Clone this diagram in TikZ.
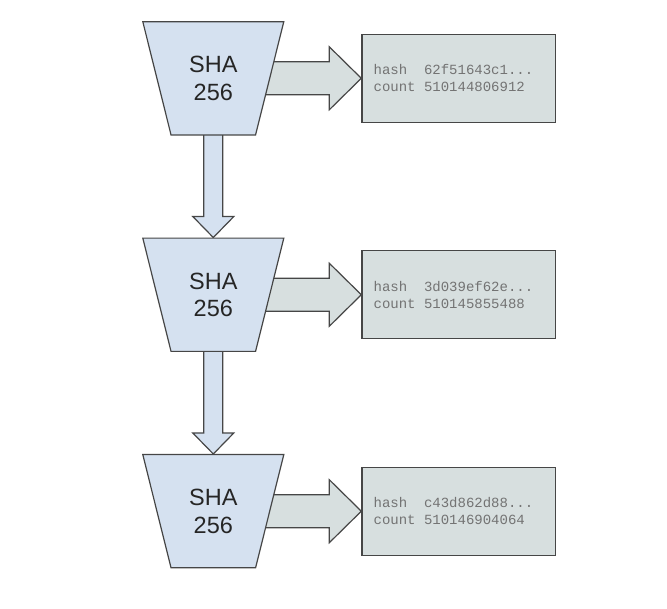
\documentclass[tikz,border=0pt]{standalone}
\usepackage{fontspec}
\usepackage{tikz}
\usepackage{xcolor}
\usetikzlibrary{shapes.geometric,positioning,calc,backgrounds}
\newfontfamily\shafont{Liberation Sans}
\newfontfamily\hashfont{Liberation Mono}
\definecolor{ShaBlue}{RGB}{213,225,240}
\definecolor{OutGray}{RGB}{215,223,223}
\definecolor{EdgeGray}{RGB}{70,70,70}
\definecolor{HashGray}{RGB}{115,115,115}
% one mono blank, as wide as a digit
\newcommand{\blank}{\phantom{0}}
% fat arrow from a hash node to its output box
\newcommand{\flowright}[2]{%
  \draw[flowright] let \p1=(#1.center), \p2=(#2.west) in
    (\x1,\y2+16.5pt) -- (\x2-32pt,\y2+16.5pt) -- (\x2-32pt,\y2+31.5pt) -- (\p2)
    -- (\x2-32pt,\y2-31.5pt) -- (\x2-32pt,\y2-16.5pt) -- (\x1,\y2-16.5pt) -- cycle;}
% fat arrow from one hash node down to the next
\newcommand{\flowdown}[2]{%
  \draw[flowdown] let \p1=(#1.center), \p2=(#2.north) in
    (\x2-9.5pt,\y1) -- (\x2-9.5pt,\y2+21pt) -- (\x2-20.5pt,\y2+21pt) -- (\p2)
    -- (\x2+20.5pt,\y2+21pt) -- (\x2+9.5pt,\y2+21pt) -- (\x2+9.5pt,\y1) -- cycle;}

\begin{document}
\begin{tikzpicture}[
  x=1pt,y=1pt,
  shanode/.style={trapezium,shape border rotate=180,trapezium left angle=76,
    trapezium right angle=76,trapezium stretches body,minimum width=141pt,
    inner ysep=34.6pt,minimum height=113pt,draw=EdgeGray,line width=1.2pt,fill=ShaBlue,
    align=center,text=black!85,font=\shafont\fontsize{23.5}{27.4}\selectfont},
  ]
  \tikzset{%
    outnode/.style={
      draw=EdgeGray,
      line width=1.2pt,
      fill=OutGray,
      minimum height=88pt,
      text width=170pt,
      inner xsep=11.7pt,
      align=left,
      text=HashGray,
      font=\hashfont\fontsize{14}{16.7}\selectfont,
    },
    flowright/.style={draw=EdgeGray,line width=1.2pt,fill=OutGray},
    flowdown/.style={draw=EdgeGray,line width=1.2pt,fill=ShaBlue},
  }
  \useasboundingbox (0,0) rectangle (667,-609);
  %Nodes
  \node[shanode](sha1) at (213.3,-78.3){SHA\\256};
  \node[shanode](sha2)[below=102pt of sha1]{SHA\\256};
  \node[shanode](sha3)[below=102pt of sha2]{SHA\\256};
  \node[outnode](out1)[right=91pt of sha1]{hash\blank\blank62f51643c1...\\count\blank510144806912};
  \node[outnode](out2)[right=91pt of sha2]{hash\blank\blank3d039ef62e...\\count\blank510145855488};
  \node[outnode](out3)[right=91pt of sha3]{hash\blank\blank c43d862d88...\\count\blank510146904064};
  %Arrows
  \begin{scope}[on background layer]
    \flowright{sha1}{out1}
    \flowright{sha2}{out2}
    \flowright{sha3}{out3}
    \flowdown{sha1}{sha2}
    \flowdown{sha2}{sha3}
  \end{scope}
\end{tikzpicture}
\end{document}
